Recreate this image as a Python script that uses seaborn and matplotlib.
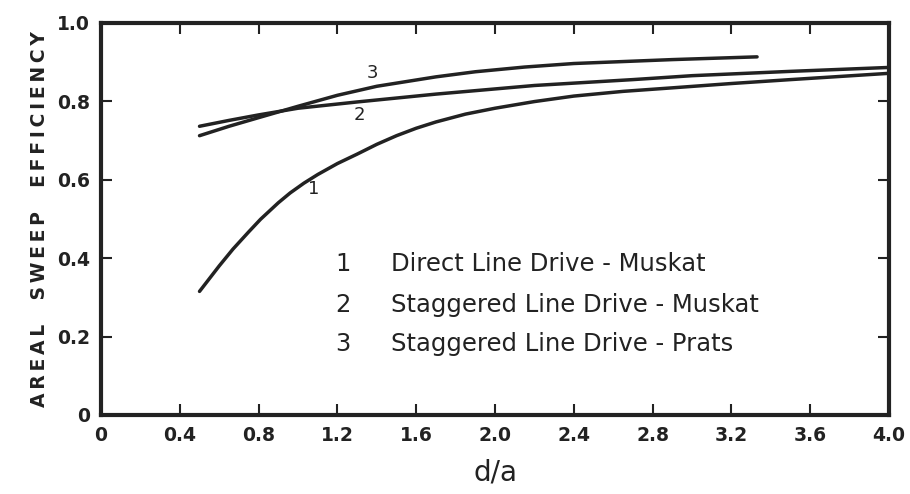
import matplotlib
matplotlib.use("Agg")
import matplotlib.pyplot as plt
import seaborn as sns
import pandas as pd

# Curve 1: Direct Line Drive - Muskat
x1 = [0.50, 0.60, 0.67, 0.75, 0.81, 0.90, 0.96, 1.03, 1.10, 1.20, 1.30, 1.40, 1.50, 1.60, 1.70, 1.85, 2.00, 2.20, 2.40, 2.65, 2.90, 3.20, 3.50, 3.75, 4.00]
y1 = [0.315, 0.380, 0.423, 0.467, 0.499, 0.541, 0.566, 0.591, 0.613, 0.641, 0.665, 0.690, 0.712, 0.731, 0.747, 0.767, 0.782, 0.799, 0.813, 0.825, 0.834, 0.845, 0.855, 0.863, 0.871]
# Curve 2: Staggered Line Drive - Muskat
x2 = [0.50, 0.65, 0.80, 1.00, 1.30, 1.70, 2.20, 2.70, 3.00, 3.50, 4.00]
y2 = [0.736, 0.751, 0.765, 0.782, 0.798, 0.818, 0.840, 0.855, 0.865, 0.876, 0.886]
# Curve 3: Staggered Line Drive - Prats
x3 = [0.50, 0.65, 0.80, 1.00, 1.20, 1.40, 1.70, 1.90, 2.15, 2.40, 2.90, 3.33]
y3 = [0.712, 0.736, 0.758, 0.787, 0.815, 0.838, 0.862, 0.875, 0.887, 0.896, 0.906, 0.913]

curve_ids = ["1", "2", "3"]
legend_texts = ["Direct Line Drive - Muskat", "Staggered Line Drive - Muskat", "Staggered Line Drive - Prats"]
x_ticks = [0, 0.4, 0.8, 1.2, 1.6, 2.0, 2.4, 2.8, 3.2, 3.6, 4.0]
x_tick_labels = ["0", "0.4", "0.8", "1.2", "1.6", "2.0", "2.4", "2.8", "3.2", "3.6", "4.0"]
y_ticks = [0, 0.2, 0.4, 0.6, 0.8, 1.0]
y_tick_labels = ["0", "0.2", "0.4", "0.6", "0.8", "1.0"]
y_label = "AREAL  SWEEP  EFFICIENCY"

frames = []
for cid, xs, ys in zip(curve_ids, [x1, x2, x3], [y1, y2, y3]):
    frames.append(pd.DataFrame({"x": xs, "y": ys, "curve": cid}))
df = pd.concat(frames, ignore_index=True)

sns.set_style("ticks")
plt.rcParams['font.family'] = ['DejaVu Sans']

ink = "#222222"
fig = plt.figure(figsize=(9.1, 4.94), dpi=100)
ax = fig.add_axes([0.111, 0.160, 0.866, 0.794])

sns.lineplot(data=df, x="x", y="y", hue="curve", palette=[ink, ink, ink],
             estimator=None, sort=False, linewidth=2.5, legend=False, ax=ax)

ax.set_xlim(0, 4.0)
ax.set_ylim(0, 1.0)
ax.set_xticks(x_ticks)
ax.set_xticklabels(x_tick_labels, fontsize=13.5, fontweight="bold", color=ink)
ax.set_yticks(y_ticks)
ax.set_yticklabels(y_tick_labels, fontsize=13.5, fontweight="bold", color=ink)
ax.tick_params(direction="in", length=8, width=1.5, color=ink,
               top=True, right=True, pad=8)
for s in ax.spines.values():
    s.set_visible(True)
    s.set_linewidth(3)
    s.set_color(ink)

spaced = "\u2009".join(list(y_label))
ax.set_xlabel("d/a", fontsize=20, color=ink, labelpad=10)
ax.set_ylabel(spaced, fontsize=13.5, fontweight="bold", color=ink, labelpad=6)

# curve labels
ax.text(1.08, 0.575, "1", fontsize=13, color=ink, ha="center", va="center")
ax.text(1.31, 0.765, "2", fontsize=13, color=ink, ha="center", va="center")
ax.text(1.38, 0.873, "3", fontsize=13, color=ink, ha="center", va="center")

# legend block as text
ys_leg = [0.384, 0.281, 0.182]
for cid, txt, yy in zip(curve_ids, legend_texts, ys_leg):
    ax.text(1.23, yy, cid, fontsize=17.5, color=ink, ha="center", va="center")
    ax.text(1.47, yy, txt, fontsize=17.5, color=ink, ha="left", va="center")

fig.savefig("out.png", dpi=100)
